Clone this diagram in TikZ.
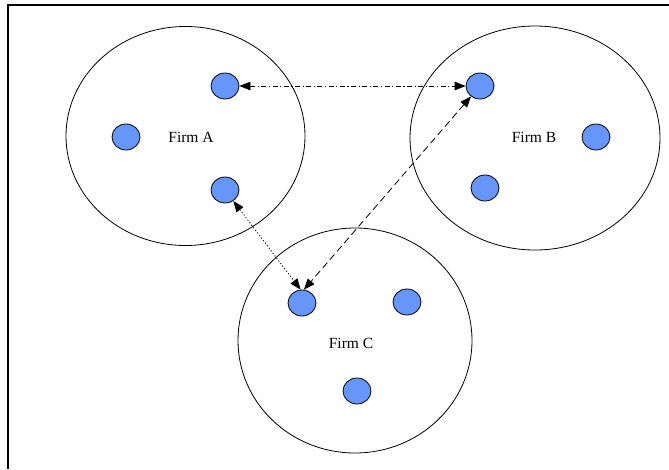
\documentclass[tikz,border=0pt]{standalone}
\usepackage{fontspec}
\setmainfont{Liberation Serif}
\usetikzlibrary{shapes.geometric,arrows.meta}
\definecolor{dotblue}{RGB}{102,150,250}
\tikzset{
  firm/.style={draw=black,line width=0.8pt,ellipse,inner sep=0pt},
  member/.style={draw=black,line width=0.8pt,fill=dotblue,ellipse,inner sep=0pt,minimum width=28pt,minimum height=26pt},
  lab/.style={font=\fontsize{15.5}{18}\selectfont,inner sep=0pt},
  link/.style={line width=0.8pt,{Triangle[length=11pt,width=8.5pt]}-{Triangle[length=11pt,width=8.5pt]}},
  dashdot/.style={dash pattern=on 5pt off 2.5pt on 1.2pt off 2.5pt},
  longdash/.style={dash pattern=on 7pt off 4pt},
  dots/.style={dash pattern=on 1.2pt off 2pt}
}
\begin{document}
\begin{tikzpicture}[x=1pt,y=-1pt]
\useasboundingbox (0,0) rectangle (669,469);
\fill[white] (0,0) rectangle (669,469);
\draw[line width=2pt] (8,469) -- (8,5) -- (670,5);
% firms
\node[firm,minimum width=239pt,minimum height=219pt] (fa) at (185.5,136) {};
\node[firm,minimum width=250pt,minimum height=224pt] (fb) at (535,138) {};
\node[firm,minimum width=234pt,minimum height=225pt] (fc) at (355,340.5) {};
\node[lab] (la) at (191,137) {Firm A};
\node[lab] (lb) at (534,137) {Firm B};
\node[lab] (lc) at (351,343) {Firm C};
% members
\node[member] (at) at (225,86) {};
\node[member] (al) at (126,137) {};
\node[member] (ab) at (225,190) {};
\node[member] (bt) at (480,86) {};
\node[member] (br) at (596,137) {};
\node[member] (bb) at (485,188) {};
\node[member] (cl) at (302,303) {};
\node[member] (cr) at (407,302) {};
\node[member] (cb) at (357,391) {};
% links
\draw[link,dashdot] (at) -- (bt);
\draw[link,dots] (ab) -- (cl.96);
\draw[link,longdash] (bt) -- (cl.82);
\end{tikzpicture}
\end{document}
